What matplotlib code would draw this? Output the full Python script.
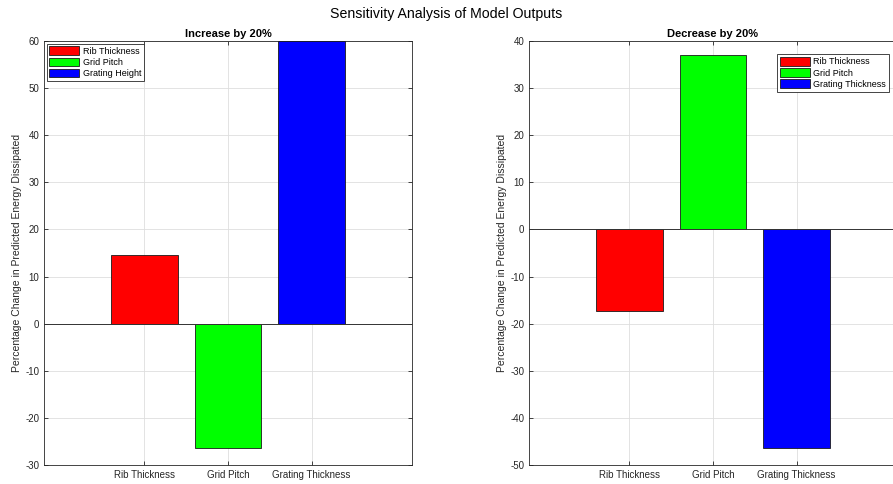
import matplotlib.pyplot as plt

plt.rcParams['font.family'] = ['Liberation Sans', 'DejaVu Sans']
plt.rcParams['axes.unicode_minus'] = False

categories = ['Rib Thickness', 'Grid Pitch', 'Grating Thickness']
increase_values = [14.5, -26.3, 60.0]
decrease_values = [-17.3, 37.1, -46.3]
increase_labels = ['Rib Thickness', 'Grid Pitch', 'Grating Height']
decrease_labels = ['Rib Thickness', 'Grid Pitch', 'Grating Thickness']
bar_colors = ['#ff0000', '#00ff00', '#0000ff']

fig = plt.figure(figsize=(8.93, 4.84), dpi=100)
ax1 = fig.add_axes([0.0493, 0.0393, 0.412, 0.876])
ax2 = fig.add_axes([0.5924, 0.0393, 0.412, 0.876])


def draw_panel(ax, values, labels, title, ylim, legend_loc, legend_anchor):
    x = range(1, len(values) + 1)
    for xi, v, c, lab in zip(x, values, bar_colors, labels):
        ax.bar(xi, v, width=0.8, color=c, edgecolor='#1a1a1a', linewidth=0.6,
               label=lab, zorder=3)
    ax.axhline(0, color='#333333', linewidth=0.7, zorder=4)
    ax.set_xlim(-0.2, 4.2)
    ax.set_ylim(*ylim)
    ax.set_yticks(range(ylim[0], ylim[1] + 1, 10))
    ax.set_xticks(list(x))
    ax.set_xticklabels(categories)
    ax.set_title(title, fontsize=8, fontweight='bold', pad=3)
    ax.set_ylabel('Percentage Change in Predicted Energy Dissipated', fontsize=7.5,
                  color='#262626', labelpad=2)
    ax.grid(True, color='#dedede', linewidth=0.6, zorder=0)
    ax.tick_params(direction='in', top=True, right=True, labelsize=7,
                   colors='#262626', length=3, width=0.6)
    for s in ax.spines.values():
        s.set_color('#262626')
        s.set_linewidth(0.6)
    leg = ax.legend(loc=legend_loc, bbox_to_anchor=legend_anchor, fontsize=6.5,
                    fancybox=False, framealpha=1, edgecolor='#262626',
                    handlelength=3.3, handleheight=1.1, handletextpad=0.4,
                    borderpad=0.3, labelspacing=0.2, borderaxespad=0.3)
    leg.get_frame().set_linewidth(0.6)


draw_panel(ax1, increase_values, increase_labels, 'Increase by 20%', (-30, 60),
           'upper left', None)
draw_panel(ax2, decrease_values, decrease_labels, 'Decrease by 20%', (-50, 40),
           'upper right', (0.985, 0.975))

fig.suptitle('Sensitivity Analysis of Model Outputs', fontsize=10.2, y=0.985)

fig.savefig('out.png', dpi=100)
